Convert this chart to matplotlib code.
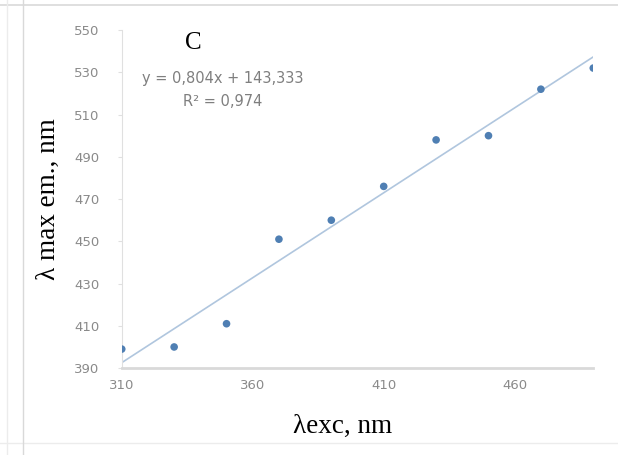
import matplotlib
matplotlib.use("Agg")
import matplotlib.pyplot as plt
import numpy as np
from matplotlib.lines import Line2D

# Data
lam_exc = [310, 330, 350, 370, 390, 410, 430, 450, 470, 490]
lam_em = [399, 400, 411, 451, 460, 476, 498, 500, 522, 532]
slope = 0.804
intercept = 143.333
x_ticks = [310, 360, 410, 460]
y_ticks = [390, 410, 430, 450, 470, 490, 510, 530, 550]

fig = plt.figure(figsize=(6.18, 4.55), dpi=100)
ax = fig.add_axes([0.197, 0.191, 0.763, 0.743])

xs = np.array([lam_exc[0], lam_exc[-1]])
ax.plot(xs, slope * xs + intercept, color="#b0c6de", lw=1.2, zorder=2)
ax.scatter(lam_exc, lam_em, s=30, color="#4f7fb3", zorder=3, edgecolors="none")

ax.set_xlim(310, 490)
ax.set_ylim(390, 550)
ax.set_xticks(x_ticks)
ax.set_yticks(y_ticks)
for s in ["top", "right"]:
    ax.spines[s].set_visible(False)
ax.spines["left"].set_color("#e0e0e0")
ax.spines["left"].set_linewidth(0.8)
ax.spines["bottom"].set_color("#d9d9d9")
ax.spines["bottom"].set_linewidth(2.0)
ax.tick_params(axis="both", colors="#e0e0e0", labelcolor="#8a8a8a",
               labelsize=9.5, length=3)
ax.tick_params(axis="y", pad=13)
ax.tick_params(axis="x", length=0, pad=8)
for lab in ax.get_xticklabels() + ax.get_yticklabels():
    lab.set_family("DejaVu Sans")

fig.text(343/618, 1-426/455, "λexc, nm", family="Liberation Serif", fontsize=19.5,
         ha="center", va="center")
fig.text(48/618, 1-199/455, "λ max em., nm", family="Liberation Serif", fontsize=19.5,
         ha="center", va="center", rotation=90)

fig.text(193/618, 1-43/455, "C", family="Liberation Serif", fontsize=18,
         ha="center", va="center")
fig.text(223/618, 1-78/455, "y = 0,804x + 143,333", family="DejaVu Sans",
         fontsize=10.5, color="#7f7f7f", ha="center", va="center")
fig.text(223/618, 1-102/455, "R² = 0,974", family="DejaVu Sans",
         fontsize=10.5, color="#7f7f7f", ha="center", va="center")

# chart border lines
bc = "#d9d9d9"
fig.add_artist(Line2D([0, 1], [1-5/455, 1-5/455], color=bc, lw=1.2, transform=fig.transFigure))
fig.add_artist(Line2D([0, 1], [1-443/455, 1-443/455], color="#ececec", lw=1.0, transform=fig.transFigure))
fig.add_artist(Line2D([7/618, 7/618], [0, 1], color="#ececec", lw=1.0, transform=fig.transFigure))
fig.add_artist(Line2D([23/618, 23/618], [0, 1], color=bc, lw=1.0, transform=fig.transFigure))

fig.savefig("out.png", dpi=100)
